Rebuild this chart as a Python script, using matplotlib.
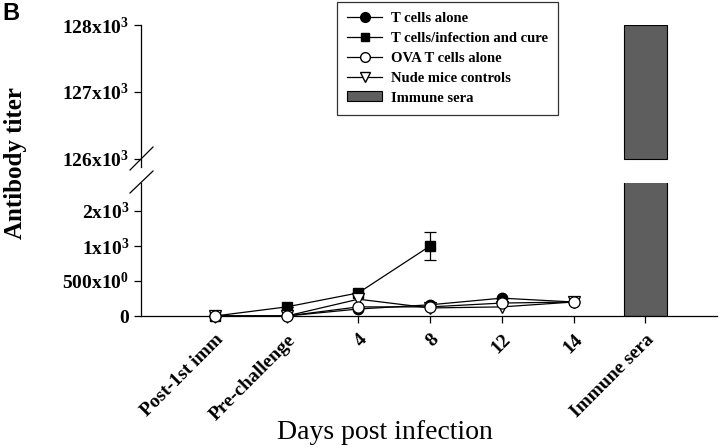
import matplotlib
matplotlib.use("Agg")
import matplotlib.pyplot as plt
from matplotlib.lines import Line2D
from matplotlib.patches import Patch
import numpy as np

# ============================================================
# DATI
# ============================================================

categories = ["Post-1st imm", "Pre-challenge", "4", "8", "12", "14", "Immune sera"]

t_cells_alone = [0, 0, 100, 160, 255, 200]
t_cells_cure = [0, 130, 330, 1000]
t_cells_cure_err = [0, 0, 0, 200]
ova_t_cells = [0, 0, 130, 130, 185, 200]
nude_controls = [0, 0, 240, 115, 130, 200]
immune_sera = 128000
upper_floor = 126000

lower_ticks = [0, 500, 1000, 1500]
lower_labels = ["0", r"500x10$^0$", r"1x10$^3$", r"2x10$^3$"]
upper_ticks = [126000, 127000, 128000]
upper_labels = [r"126x10$^3$", r"127x10$^3$", r"128x10$^3$"]

# ============================================================
# STILE
# ============================================================

plt.rcParams["font.family"] = ["Liberation Serif", "DejaVu Serif"]
plt.rcParams["font.weight"] = "bold"
plt.rcParams["mathtext.fontset"] = "custom"
plt.rcParams["mathtext.rm"] = "Liberation Serif:bold"
plt.rcParams["mathtext.it"] = "Liberation Serif:bold"
plt.rcParams["mathtext.bf"] = "Liberation Serif:bold"

W, H = 720, 448


def fx(px):
    return px / W


def fy(py):
    return 1 - py / H


fig = plt.figure(figsize=(7.2, 4.48), dpi=100)

ax_low = fig.add_axes([fx(141), fy(316), fx(717) - fx(141), fy(183) - fy(316)])
ax_up = fig.add_axes([fx(141), fy(167), fx(717) - fx(141), fy(25) - fy(167)])

x_all = np.arange(len(categories))
bar_color = "#5e5e5e"

# ============================================================
# PANNELLO SUPERIORE: solo la barra dei sieri immuni
# ============================================================

ax_up.bar(x_all[6], immune_sera - upper_floor, bottom=upper_floor,
          width=0.6, color=bar_color, edgecolor="black",
          linewidth=0.8, zorder=1)

# ============================================================
# PANNELLO INFERIORE
# ============================================================

ax_low.bar(x_all[6], immune_sera, width=0.6, color=bar_color,
           edgecolor="black", linewidth=0.8, zorder=1)

ax_low.plot(x_all[:6], t_cells_alone, color="black", lw=0.9,
            marker="o", markersize=7.5, markerfacecolor="black",
            markeredgecolor="black", zorder=2, clip_on=False)
ax_low.errorbar(x_all[:4], t_cells_cure, yerr=t_cells_cure_err,
                color="black", lw=0.9, marker="s", markersize=7,
                capsize=4, elinewidth=0.9, capthick=0.9, zorder=3,
                clip_on=False)
ax_low.plot(x_all[:6], nude_controls, color="black", lw=0.9,
            marker="v", markersize=8, markerfacecolor="white",
            markeredgecolor="black", markeredgewidth=0.9, zorder=4,
            clip_on=False)
ax_low.plot(x_all[:6], ova_t_cells, color="black", lw=0.9,
            marker="o", markersize=8, markerfacecolor="white",
            markeredgecolor="black", markeredgewidth=0.9, zorder=5,
            clip_on=False)

for ax in (ax_low, ax_up):
    ax.set_xlim(-1.03, 7)
    for side in ("top", "right"):
        ax.spines[side].set_visible(False)
    ax.spines["left"].set_linewidth(0.9)
    ax.tick_params(axis="y", direction="out", length=5, width=0.9,
                   labelsize=14)

ax_low.set_ylim(0, 1900)
ax_low.set_yticks(lower_ticks)
ax_low.set_yticklabels(lower_labels)
ax_low.spines["bottom"].set_linewidth(0.9)
ax_low.set_xticks(x_all)
ax_low.set_xticklabels(categories, rotation=45, ha="right",
                       rotation_mode="anchor", fontsize=14)
ax_low.tick_params(axis="x", direction="out", length=5, width=0.9, pad=6)

ax_up.set_ylim(125880, 128000)
ax_up.set_yticks(upper_ticks)
ax_up.set_yticklabels(upper_labels)
ax_up.spines["bottom"].set_visible(False)
ax_up.set_xticks([])

# segni di interruzione dell'asse
for (x0, y0, x1, y1) in [(130, 170, 153, 147), (130, 193, 153, 171)]:
    fig.add_artist(Line2D([fx(x0), fx(x1)], [fy(y0), fy(y1)],
                          color="black", lw=0.9))

fig.text(fx(16), fy(163), "Antibody titer", rotation=90, ha="center",
         va="center", fontsize=18, fontweight="bold")
fig.text(fx(385), fy(432), "Days post infection", ha="center",
         va="center", fontsize=20, fontweight="normal")
fig.text(fx(2), fy(2), "B", ha="left", va="top", fontsize=17,
         fontweight="bold", family=["Liberation Sans", "DejaVu Sans"])

handles = [
    Line2D([], [], color="black", lw=0.9, marker="o", markersize=7,
           markerfacecolor="black"),
    Line2D([], [], color="black", lw=0.9, marker="s", markersize=6),
    Line2D([], [], color="black", lw=0.9, marker="o", markersize=7,
           markerfacecolor="white"),
    Line2D([], [], color="black", lw=0.9, marker="v", markersize=7,
           markerfacecolor="white"),
    Patch(facecolor=bar_color, edgecolor="black", linewidth=0.8),
]
labels = ["T cells alone", "T cells/infection and cure", "OVA T cells alone",
          "Nude mice controls", "Immune sera"]

leg = fig.legend(handles, labels, loc="upper left",
                 bbox_to_anchor=(fx(337), fy(2)), fontsize=10.5,
                 frameon=True, fancybox=False, handlelength=2.4,
                 handletextpad=0.6, labelspacing=0.45, borderpad=0.7,
                 borderaxespad=0)
leg.get_frame().set_edgecolor("black")
leg.get_frame().set_linewidth(0.9)

fig.savefig("out.png", dpi=100)
